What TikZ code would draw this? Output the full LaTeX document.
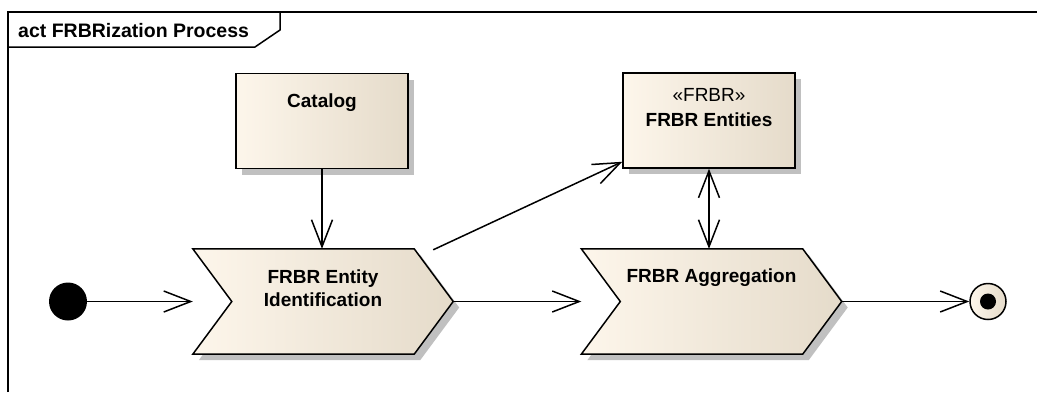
\documentclass[tikz,border=0pt]{standalone}
\usepackage{fontspec}
\setmainfont{Liberation Sans}
\usetikzlibrary{arrows.meta,positioning,calc,shadows,backgrounds}

\definecolor{actleft}{RGB}{253,246,235}
\definecolor{actmid}{RGB}{250,238,221}
\definecolor{actright}{RGB}{229,219,202}
\definecolor{shadowgray}{RGB}{192,192,192}

\tikzset{
  barb/.tip={Straight Barb[length=27pt, width=21pt, line width=1.5pt]},
  actfill/.style={left color=actleft, middle color=actmid, right color=actright},
  objbox/.style={draw, line width=1.5pt, actfill, minimum width=172pt, minimum height=95pt, inner sep=0pt,
    drop shadow={shadow xshift=6pt, shadow yshift=-6pt, fill=shadowgray, opacity=1}},
  actbox/.style={minimum width=260pt, minimum height=105pt, inner sep=0pt},
  boxtext/.style={font=\fontsize{19}{23}\selectfont\bfseries, align=center, inner sep=0pt},
  flow/.style={line width=1.5pt, -barb},
  flowboth/.style={line width=1.5pt, barb-barb},
}

% chevron outline of an action node, drawn behind it
\newcommand{\chevron}[1]{%
  \begin{pgfonlayer}{background}
    \fill[shadowgray, transform canvas={shift={(6pt,-6pt)}}] (#1.north west) -- ($(#1.north east)+(-39,0)$) -- (#1.east)
      -- ($(#1.south east)+(-39,0)$) -- (#1.south west) -- ($(#1.west)+(39,0)$) -- cycle;
    \draw[line width=1.5pt, actfill] (#1.north west) -- ($(#1.north east)+(-39,0)$) -- (#1.east)
      -- ($(#1.south east)+(-39,0)$) -- (#1.south west) -- ($(#1.west)+(39,0)$) -- cycle;
  \end{pgfonlayer}}

\begin{document}
\begin{tikzpicture}[x=1pt, y=-1pt]
  \useasboundingbox (0,0) rectangle (1037,392);
  \begin{pgfonlayer}{background}
    \fill[white] (0,0) rectangle (1037,392);
  \end{pgfonlayer}

  % Frame with its name tab
  \draw[line width=1.5pt] (8,392) -- (8,12) -- (1037,12);
  \draw[line width=1.5pt] (8,47) -- (255,47) -- (280,30) -- (280,12);
  \node[anchor=west, inner sep=0pt, font=\fontsize{19.5}{22}\selectfont\bfseries] (title) at (18,30.5) {act FRBRization Process};

  % Object nodes
  \node[objbox] (catalog) at (322,121) {};
  \node[boxtext] (catalogtext) at ($(catalog.north)+(0,30)$) {Catalog};
  \node[objbox] (entities) at (709,120.5) {};
  \node[boxtext, font=\fontsize{19}{25}\selectfont] (entitiestext) at ($(entities.north)+(0,35)$) {«FRBR»\\\textbf{FRBR Entities}};

  % Actions
  \node[actbox] (ident) at (323,301.5) {};
  \chevron{ident}
  \node[boxtext] (identtext) at ($(ident.north)+(0,39)$) {FRBR Entity\\Identification};
  \node[actbox] (aggr) at (711.5,301.5) {};
  \chevron{aggr}
  \node[boxtext] (aggrtext) at ($(aggr.north)+(0,29)$) {FRBR Aggregation};

  % Initial and final nodes
  \node[circle, fill=black, minimum size=38pt, inner sep=0pt] (start) at (68,301.5) {};
  \node[circle, draw, line width=1.5pt, actfill, minimum size=36pt, inner sep=0pt] (finish) at (988,301.5) {};
  \node[circle, fill=black, minimum size=16pt, inner sep=0pt] (finishdot) at (finish) {};

  % Flows
  \draw[flow] (start) -- (ident.west);
  \draw[flow] (catalog.south) -- (catalog.south |- ident.north);
  \draw[flow] (ident.east) -- (aggr.west);
  \coordinate (identout) at ($(ident.north east)+(-20,1)$);
  \draw[flow] (identout) -- ($(entities.south west)+(0,-7)$);
  \draw[flowboth] (entities.south) -- (entities.south |- aggr.north);
  \draw[flow] (aggr.east) -- (finish.west);
\end{tikzpicture}
\end{document}
